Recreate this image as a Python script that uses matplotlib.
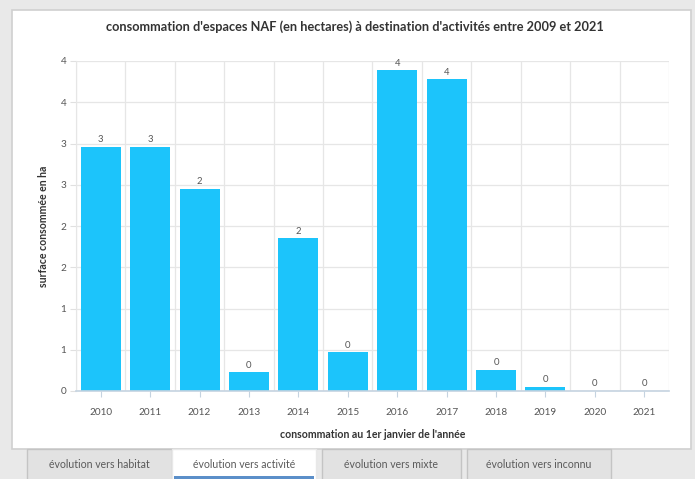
import matplotlib
matplotlib.use("Agg")
import matplotlib.pyplot as plt
from matplotlib.patches import Rectangle
from matplotlib.ticker import FuncFormatter, MultipleLocator
import numpy as np

years = ["2010", "2011", "2012", "2013", "2014", "2015", "2016", "2017", "2018", "2019", "2020", "2021"]
values = [2.96, 2.96, 2.45, 0.23, 1.85, 0.47, 3.89, 3.78, 0.26, 0.05, 0.004, 0.004]
tabs = ["évolution vers habitat", "évolution vers activité", "évolution vers mixte", "évolution vers inconnu"]
title = "consommation d'espaces NAF (en hectares) à destination d'activités entre 2009 et 2021"
xlabel = "consommation au 1er janvier de l'année"
ylabel = "surface consommée en ha"

W, H = 695, 479
fig = plt.figure(figsize=(W / 100, H / 100), dpi=100)
fig.patch.set_facecolor("#e9e9e9")
plt.rcParams["font.family"] = ["Lato", "DejaVu Sans"]

def px(x, y, w, h):
    return (x / W, 1 - (y + h) / H, w / W, h / H)

# white panel
x0, y0, w0, h0 = px(12, 10, 679, 439)
fig.add_artist(Rectangle((x0, y0), w0, h0, transform=fig.transFigure,
                         facecolor="white", edgecolor="#d0d0d0", lw=1.2, zorder=0))

# tabs
tab_pos = [(27, 145), (172, 144), (322, 139), (467, 144)]
for i, (lab, (tx, tw)) in enumerate(zip(tabs, tab_pos)):
    active = (i == 1)
    rx, ry, rw, rh = px(tx, 449, tw, 32)
    fig.add_artist(Rectangle((rx, ry), rw, rh, transform=fig.transFigure,
                             facecolor="white" if active else "#e2e2e2",
                             edgecolor="#e8e8e8" if active else "#c4c4c4", lw=1.0, zorder=1))
    if active:
        bx, by, bw, bh = px(tx + 2, 476, tw - 4, 3)
        fig.add_artist(Rectangle((bx, by), bw, bh, transform=fig.transFigure,
                                 facecolor="#5b8fc9", edgecolor="none", zorder=2))
    fig.text((tx + tw / 2) / W, 1 - 464 / H, lab, ha="center", va="center",
             fontsize=7.6, color="#5a5a5a", zorder=3)

ax = fig.add_axes([76 / W, 1 - 391 / H, (669 - 76) / W, (391 - 61) / H])
ax.set_facecolor("none")
xs = np.arange(len(years))
bars = ax.bar(xs, values, width=0.81, color="#1cc4fb", zorder=2)
for xi, v in zip(xs, values):
    ax.text(xi, v + 0.03, f"{int(np.floor(v + 0.5))}", ha="center", va="bottom",
            fontsize=6.8, color="#555555", zorder=3)

ax.set_xlim(-0.5, len(years) - 0.5)
ax.set_ylim(0, 4)
ax.yaxis.set_major_locator(MultipleLocator(0.5))
ax.yaxis.set_major_formatter(FuncFormatter(lambda t, p: f"{int(np.floor(t + 0.5))}"))
ax.set_xticks(xs)
ax.set_xticklabels(years)
ax.set_xticks(np.arange(-0.5, len(years), 1), minor=True)

ax.grid(True, axis="y", which="major", color="#e6e6e6", lw=0.9, zorder=0)
ax.grid(True, axis="x", which="minor", color="#e6e6e6", lw=0.9, zorder=0)
ax.grid(False, axis="x", which="major")

for s in ["top", "right"]:
    ax.spines[s].set_visible(False)
ax.spines["left"].set_color("#e6e6e6")
ax.spines["bottom"].set_color("#c5d3e0")
ax.spines["bottom"].set_linewidth(1.2)

ax.tick_params(axis="x", which="major", length=4, color="#c5d3e0", labelsize=7.2,
               labelcolor="#555555", pad=8)
ax.tick_params(axis="x", which="minor", length=0)
ax.tick_params(axis="y", length=4, color="#e0e0e0", labelsize=7.2, labelcolor="#555555", pad=3)

ax.set_xlabel(xlabel, fontsize=7.6, fontweight="bold", color="#333333", labelpad=9)
ax.set_ylabel(ylabel, fontsize=7.6, fontweight="bold", color="#333333", labelpad=8)

fig.text(355 / W, 1 - 27 / H, title, ha="center", va="center", fontsize=9.2,
         fontweight="bold", color="#333333")

fig.savefig("out.png", dpi=100, facecolor=fig.get_facecolor())
